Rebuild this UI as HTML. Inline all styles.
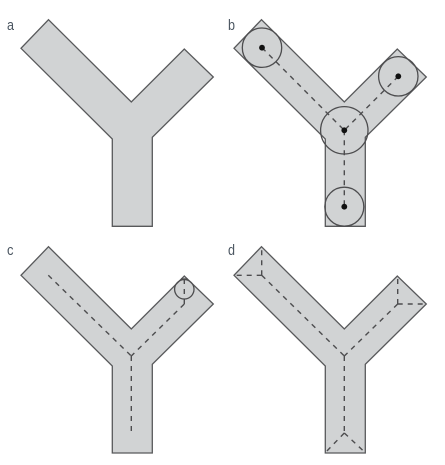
<!DOCTYPE html>
<html>
<head>
<meta charset="utf-8">
<style>
html,body{margin:0;padding:0;background:#fff;width:445px;height:465px;overflow:hidden}
svg{display:block}
.shape{fill:#d1d3d4;stroke:#58595b;stroke-width:1.3;stroke-linejoin:miter}
.dash{fill:none;stroke:#4d4d4f;stroke-width:1.4;stroke-dasharray:5 5}
.ring{fill:none;stroke:#4d4d4f;stroke-width:1.3}
.dot{fill:#111}
.lbl{font-family:"Liberation Sans",sans-serif;font-size:15px;fill:#4a5560}
</style>
</head>
<body>
<svg xmlns="http://www.w3.org/2000/svg" width="445" height="465" viewBox="0 0 445 465">
  <rect width="445" height="465" fill="#fff"/>

  <g>
    <text class="lbl" x="7" y="30" textLength="7" lengthAdjust="spacingAndGlyphs">a</text>
    <polygon class="shape" points="48.5,19.7 131.3,102 184.3,49 213.3,77 152.3,137.3 152.3,226.3 112.3,226.3 112.3,139 21,48.3"/>
  </g>

  <g>
    <text class="lbl" x="228" y="30" textLength="7" lengthAdjust="spacingAndGlyphs">b</text>
    <polygon class="shape" transform="translate(213,0)" points="48.5,19.7 131.3,102 184.3,49 213.3,77 152.3,137.3 152.3,226.3 112.3,226.3 112.3,139 21,48.3"/>
    <path class="dash" d="M262,47.7L344.3,130.3M398.3,76.3L344.3,130.3M344.3,130.3L344.3,206.7"/>
    <circle class="ring" cx="262" cy="47.7" r="19.7"/>
    <circle class="ring" cx="398.3" cy="76.3" r="19.7"/>
    <circle class="ring" cx="344.3" cy="130.3" r="23.7"/>
    <circle class="ring" cx="344.3" cy="206.7" r="19.5"/>
    <circle class="dot" cx="262" cy="47.7" r="2.9"/>
    <circle class="dot" cx="398.3" cy="76.3" r="2.9"/>
    <circle class="dot" cx="344.3" cy="130.3" r="2.9"/>
    <circle class="dot" cx="344.3" cy="206.7" r="2.9"/>
  </g>

  <g>
    <text class="lbl" x="7" y="255" textLength="6.5" lengthAdjust="spacingAndGlyphs">c</text>
    <polygon class="shape" points="48.5,246.7 131.3,329 184.3,276 213.3,304 152.3,364.3 152.3,453 112.3,453 112.3,366 21,275.3"/>
    <path class="dash" d="M48.3,275.3L131.3,356M184.3,304L131.3,356M131.3,356L131.3,434M184.3,304L184.3,276"/>
    <circle class="ring" cx="184.3" cy="289.3" r="9.7"/>
    <path class="ring" d="M181,279H187.6"/>
  </g>

  <g>
    <text class="lbl" x="228" y="255" textLength="7" lengthAdjust="spacingAndGlyphs">d</text>
    <polygon class="shape" transform="translate(213,0)" points="48.5,246.7 131.3,329 184.3,276 213.3,304 152.3,364.3 152.3,453 112.3,453 112.3,366 21,275.3"/>
    <path class="dash" d="M261.7,275.3L344.3,356M397.7,304L344.3,356M344.3,356L344.3,433M261.7,275.3L261.7,247M261.7,275.3L234,275.3M397.7,304L397.7,276M397.7,304L426,304M344.3,433L325.3,452.7M344.3,433L365.3,452.7"/>
  </g>
</svg>
</body>
</html>
